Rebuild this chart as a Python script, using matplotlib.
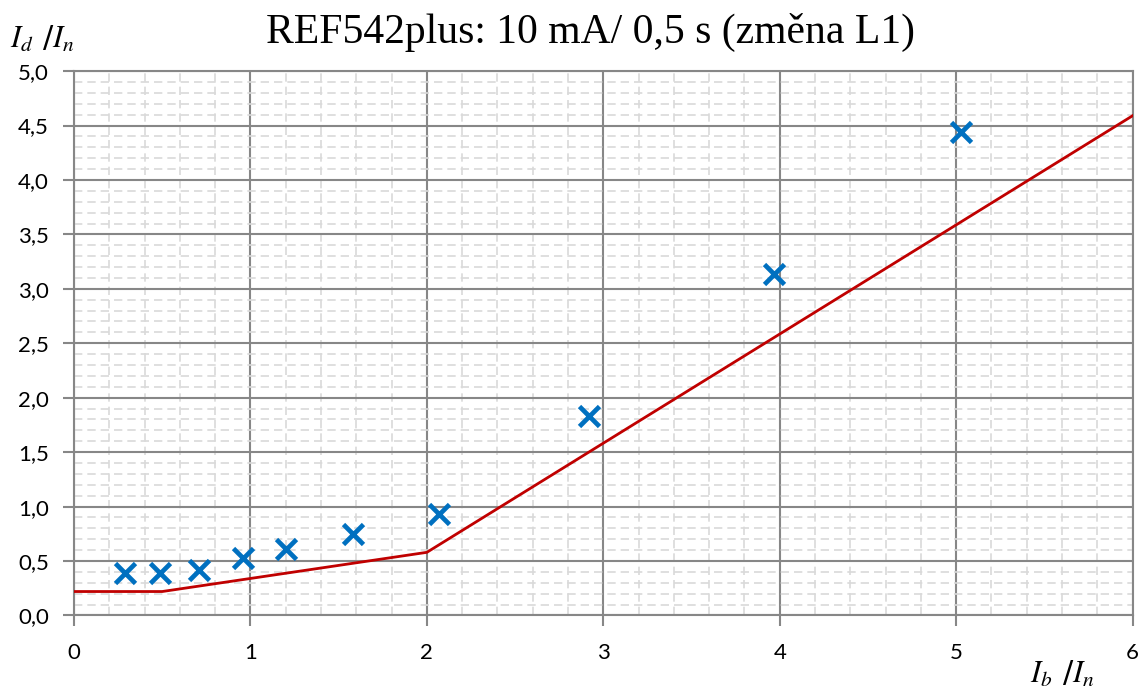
import matplotlib.pyplot as plt
from matplotlib.ticker import MultipleLocator, FuncFormatter

# measured points (Ib/In, Id/In)
meas_x = [0.29, 0.49, 0.71, 0.96, 1.20, 1.58, 2.07, 2.92, 3.97, 5.03]
meas_y = [0.39, 0.39, 0.42, 0.53, 0.61, 0.75, 0.93, 1.83, 3.14, 4.44]

# tripping characteristic
char_x = [0, 0.5, 2, 6]
char_y = [0.22, 0.22, 0.58, 4.59]

plt.rcParams['mathtext.fontset'] = 'stix'

fig = plt.figure(figsize=(11.42, 6.9), dpi=100)
ax = fig.add_axes([0.0648, 0.108, 0.927, 0.789])

ax.plot(char_x, char_y, color='#C00000', lw=2, zorder=3)
ax.plot(meas_x, meas_y, 'x', color='#0070C0', ms=14, mew=3.4, zorder=4)

ax.set_xlim(0, 6)
ax.set_ylim(0, 5)
ax.xaxis.set_major_locator(MultipleLocator(1))
ax.xaxis.set_minor_locator(MultipleLocator(0.2))
ax.yaxis.set_major_locator(MultipleLocator(0.5))
ax.yaxis.set_minor_locator(MultipleLocator(0.1))
ax.yaxis.set_major_formatter(FuncFormatter(lambda v, p: f'{v:.1f}'.replace('.', ',')))

ax.grid(which='major', color='#878787', lw=1.5)
ax.grid(which='minor', color='#d9d9d9', lw=1.2, ls=(0, (5, 3)))
ax.set_axisbelow(True)
for s in ax.spines.values():
    s.set_color('#878787')
    s.set_linewidth(1.5)

ax.tick_params(which='major', length=8, width=1.5, color='#878787',
               labelsize=16, pad=12)
ax.tick_params(axis='y', which='major', pad=10)
ax.tick_params(which='minor', length=0)
for lbl in ax.get_xticklabels() + ax.get_yticklabels():
    lbl.set_family('Lato')

fig.text(0.517, 0.953, 'REF542plus: 10 mA/ 0,5 s (změna L1)',
         ha='center', va='center', family='Liberation Serif', fontsize=30)
fig.text(0.009, 0.943, r'$I_d$ /$I_n$', ha='left', va='center', fontsize=22)
fig.text(0.902, 0.024, r'$I_b$ /$I_n$', ha='left', va='center', fontsize=22)

fig.savefig('out.png', dpi=100)
